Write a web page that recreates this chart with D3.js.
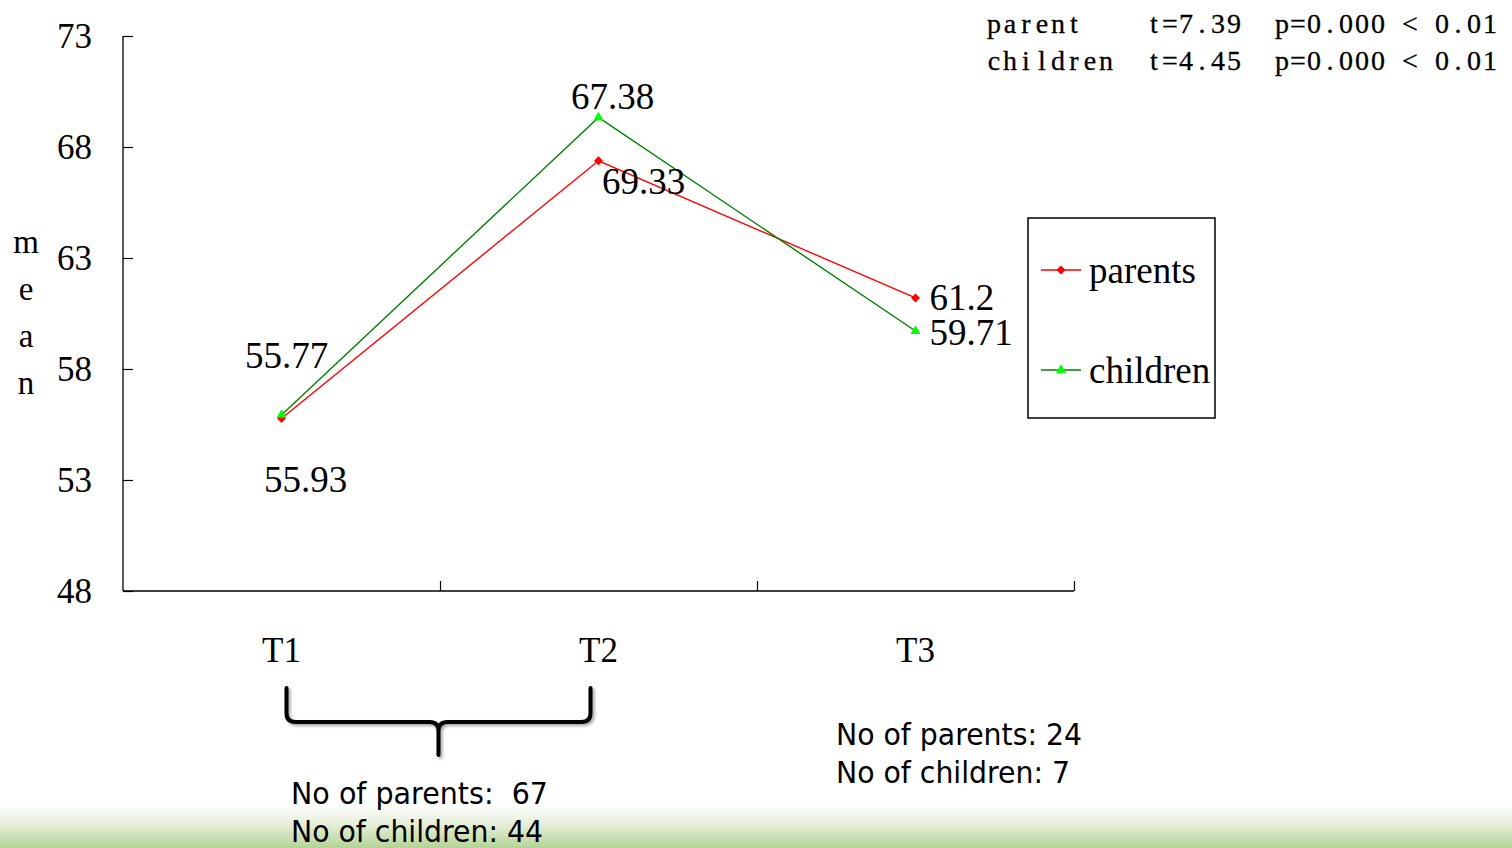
<!DOCTYPE html>
<html>
<head>
<meta charset="utf-8">
<script src="https://cdn.jsdelivr.net/npm/d3@7"></script>
<style>
  html, body { margin: 0; padding: 0; background: #ffffff; }
  svg { display: block; }
  text { white-space: pre; }
</style>
</head>
<body>
<svg id="chart" width="1512" height="848"></svg>
<script>
// ---------------- data ----------------
const categories = ["T1", "T2", "T3"];
const parentsValues = [55.77, 67.38, 61.2];
const childrenValues = [55.93, 69.33, 59.71];
const yTicks = [48, 53, 58, 63, 68, 73];
const seriesNames = ["parents", "children"];
const statsLines = [
  ["parent", "t=7.39", "p=0.000 < 0.01"],
  ["children", "t=4.45", "p=0.000 < 0.01"]
];
const groupNotes = [
  ["No of parents:  67", "No of children: 44"],
  ["No of parents: 24", "No of children: 7"]
];

// ---------------- layout ----------------
const svg = d3.select("#chart");
const W = 1512, H = 848;
const pLeft = 123, pRight = 1074, pTop = 36, pBottom = 591;
const serif = "'Liberation Serif', 'Times New Roman', serif";
const sans = "'DejaVu Sans', Tahoma, Verdana, sans-serif";

const defs = svg.append("defs");
const grad = defs.append("linearGradient").attr("id", "bottomGrad")
  .attr("x1", 0).attr("y1", 0).attr("x2", 0).attr("y2", 1);
grad.append("stop").attr("offset", "0%").attr("stop-color", "#ffffff");
grad.append("stop").attr("offset", "45%").attr("stop-color", "#e6eed9");
grad.append("stop").attr("offset", "100%").attr("stop-color", "#b4d496");
const shadow = defs.append("filter").attr("id", "braceShadow")
  .attr("x", "-10%").attr("y", "-20%").attr("width", "130%").attr("height", "160%");
shadow.append("feDropShadow").attr("dx", 2).attr("dy", 2).attr("stdDeviation", 1.5)
  .attr("flood-color", "#000").attr("flood-opacity", 0.35);

svg.append("rect").attr("x", 0).attr("y", 805).attr("width", W).attr("height", H - 805)
  .attr("fill", "url(#bottomGrad)");

const x = d3.scaleBand().domain(categories).range([pLeft, pRight]).paddingInner(0).paddingOuter(0);
const cx = c => x(c) + x.bandwidth() / 2;
const y = d3.scaleLinear().domain([48, 73]).range([pBottom, pTop]);

// y axis
const yAxis = svg.append("g").attr("transform", `translate(${pLeft},0)`)
  .call(d3.axisLeft(y).tickValues(yTicks).tickSize(-10).tickPadding(31).tickFormat(d3.format("d")));
yAxis.select(".domain").attr("d", `M0,${pTop}V${pBottom}`).attr("stroke", "#000").attr("stroke-width", 1.3);
yAxis.selectAll(".tick line").attr("stroke", "#000").attr("stroke-width", 1.2);
yAxis.selectAll(".tick text").attr("font-family", serif).attr("font-size", 35).attr("fill", "#000");

// x axis: boundary ticks
const xb = d3.scaleLinear().domain([0, categories.length]).range([pLeft, pRight]);
const xAxis = svg.append("g").attr("transform", `translate(0,${pBottom})`)
  .call(d3.axisBottom(xb).tickValues(d3.range(1, categories.length + 1)).tickSize(-10).tickFormat(""));
xAxis.select(".domain").attr("d", `M${pLeft},0H${pRight}`).attr("stroke", "#000").attr("stroke-width", 1.3);
xAxis.selectAll(".tick line").attr("stroke", "#000").attr("stroke-width", 1.2);

// x category labels
const xLab = svg.append("g").attr("transform", `translate(0,${pBottom})`)
  .call(d3.axisBottom(x).tickSize(0).tickPadding(46));
xLab.select(".domain").remove();
xLab.selectAll(".tick text").attr("font-family", serif).attr("font-size", 35).attr("fill", "#000");

// y label "m e a n"
const yTitle = "mean".split("");
svg.append("g").selectAll("text").data(yTitle).join("text")
  .attr("x", 26).attr("y", (d, i) => 253 + i * 47)
  .attr("text-anchor", "middle").attr("font-family", serif).attr("font-size", 33)
  .text(d => d);

// ---------------- series ----------------
const series = [
  { name: seriesNames[0], values: parentsValues, line: "#ff0000", fill: "#ff0000", symbol: "diamond" },
  { name: seriesNames[1], values: childrenValues, line: "#008000", fill: "#00ff00", symbol: "triangle" }
];
// label placement relative to each point: [dx, dy, anchor]
const labelPlacement = [
  [[5, -51, "middle"], [14, -52, "middle"], [14, 12, "start"]],
  [[24, 77, "middle"], [45, 77, "middle"], [14, 14, "start"]]
];

const symbolPath = {
  diamond: d3.symbol().type(d3.symbolSquare).size(40)(),
  triangle: d3.symbol().type(d3.symbolTriangle).size(44)()
};
const symbolRot = { diamond: 45, triangle: 0 };

const lineGen = d3.line().x((d, i) => cx(categories[i])).y(d => y(d));

series.forEach((s) => {
  svg.append("path").datum(s.values).attr("d", lineGen)
    .attr("fill", "none").attr("stroke", s.line).attr("stroke-width", 1.4);
});
series.forEach((s) => {
  svg.append("g").selectAll("path").data(s.values).join("path")
    .attr("d", symbolPath[s.symbol])
    .attr("transform", (d, i) => `translate(${cx(categories[i])},${y(d)}) rotate(${symbolRot[s.symbol]})`)
    .attr("fill", s.fill);
});
series.forEach((s, si) => {
  svg.append("g").selectAll("text").data(s.values).join("text")
    .attr("x", (d, i) => cx(categories[i]) + labelPlacement[si][i][0])
    .attr("y", (d, i) => y(d) + labelPlacement[si][i][1])
    .attr("text-anchor", (d, i) => labelPlacement[si][i][2])
    .attr("font-family", serif).attr("font-size", 37).attr("fill", "#000")
    .text(d => String(d));
});

// ---------------- legend ----------------
const lg = svg.append("g").attr("transform", "translate(1028,218)");
lg.append("rect").attr("x", 0).attr("y", 0).attr("width", 187).attr("height", 200)
  .attr("fill", "#fff").attr("stroke", "#000").attr("stroke-width", 1.5);
series.forEach((s, si) => {
  const ly = 52 + si * 100;
  lg.append("line").attr("x1", 13).attr("x2", 53).attr("y1", ly).attr("y2", ly)
    .attr("stroke", s.line).attr("stroke-width", 1.4);
  lg.append("path").attr("d", symbolPath[s.symbol])
    .attr("transform", `translate(33,${ly}) rotate(${symbolRot[s.symbol]})`).attr("fill", s.fill);
  lg.append("text").attr("x", 61).attr("y", ly + 13)
    .attr("font-family", serif).attr("font-size", 37).attr("fill", "#000").text(s.name);
});

// ---------------- stats text (top right, fixed-pitch serif, glyphs centred in cells) ----------------
const pitch = 16, statX0 = 986;
statsLines.forEach((row, ri) => {
  const str = row[0].padEnd(10) + row[1].padEnd(8) + row[2];
  const xs = Array.from(str, (ch, i) => statX0 + i * pitch + pitch / 2);
  svg.append("text").attr("x", xs.join(" ")).attr("y", 33 + ri * 37)
    .attr("text-anchor", "middle")
    .attr("font-family", serif).attr("font-size", 28).attr("fill", "#000")
    .attr("stroke", "#000").attr("stroke-width", 0.3)
    .text(str);
});

// ---------------- brace + notes ----------------
const bx1 = cx(categories[0]) + 5, bx2 = cx(categories[1]) - 8, bmid = (bx1 + bx2) / 2;
const bTop = 688, bH = 722, bTip = 755, r = 9;
const bracePath = `M${bx1},${bTop} V${bH - r} Q${bx1},${bH} ${bx1 + r},${bH} H${bmid - r} Q${bmid},${bH} ${bmid},${bH + r} V${bTip}`
  + ` M${bx2},${bTop} V${bH - r} Q${bx2},${bH} ${bx2 - r},${bH} H${bmid + r} Q${bmid},${bH} ${bmid},${bH + r}`;
svg.append("path").attr("d", bracePath).attr("fill", "none").attr("stroke", "#000")
  .attr("stroke-width", 4).attr("stroke-linecap", "round").attr("filter", "url(#braceShadow)");

const notePos = [[291, 804, [257, 252]], [836, 745, [246, 234]]];
groupNotes.forEach((lines, gi) => {
  lines.forEach((t, li) => {
    svg.append("text").attr("x", notePos[gi][0]).attr("y", notePos[gi][1] + li * 38)
      .attr("font-family", sans).attr("font-size", 30).attr("fill", "#000")
      .attr("textLength", notePos[gi][2][li]).attr("lengthAdjust", "spacingAndGlyphs")
      .text(t);
  });
});
</script>
</body>
</html>
